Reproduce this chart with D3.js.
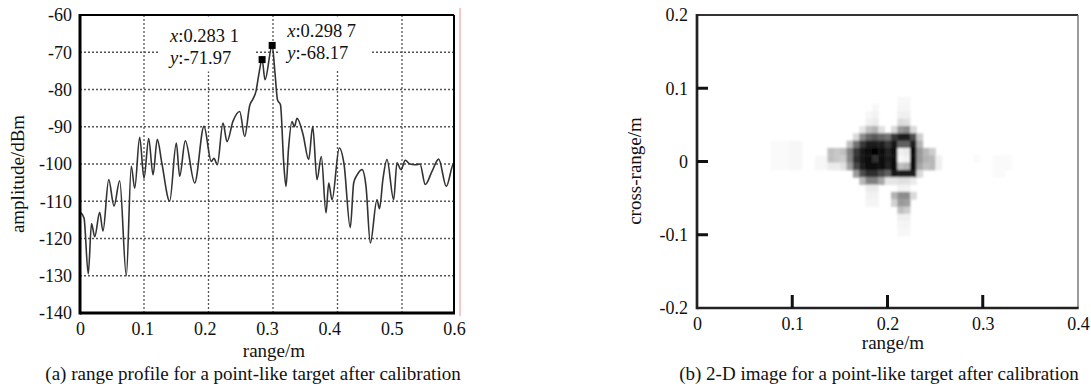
<!DOCTYPE html>
<html>
<head>
<meta charset="utf-8">
<script src="https://cdn.jsdelivr.net/npm/d3@7"></script>
<style>
  body { margin: 0; background: #fff; }
  svg { display: block; font-family: "Liberation Serif", "Times New Roman", serif; }
  .tick text { font-family: "Liberation Serif", "Times New Roman", serif; font-size: 18px; fill: #111; }
  .label { font-size: 19px; fill: #111; }
  .tip { font-size: 18.5px; fill: #111; }
</style>
</head>
<body>
<svg id="chart" width="1091" height="387"></svg>
<script>
// (a) range profile
const profileRange = [0.0016, 0.0070, 0.0136, 0.0186, 0.0236, 0.0313, 0.0364, 0.0453, 0.0535, 0.0623,
  0.0726, 0.0803, 0.0856, 0.0933, 0.1000, 0.1073, 0.1140, 0.1206, 0.1279, 0.1398,
  0.1501, 0.1553, 0.1640, 0.1786, 0.1930, 0.2043, 0.2085, 0.2136, 0.2225, 0.2287,
  0.2380, 0.2484, 0.2561, 0.2639, 0.2690, 0.2736, 0.2775, 0.2831, 0.2876, 0.2987,
  0.3031, 0.3070, 0.3116, 0.3166, 0.3202, 0.3240, 0.3295, 0.3333, 0.3372, 0.3465,
  0.3553, 0.3616, 0.3682, 0.3749, 0.3822, 0.3864, 0.3915, 0.4028, 0.4101, 0.4198,
  0.4251, 0.4302, 0.4380, 0.4442, 0.4509, 0.4612, 0.4651, 0.4705, 0.4767, 0.4871,
  0.4922, 0.4984, 0.5051, 0.5124, 0.5206, 0.5279, 0.5361, 0.5465, 0.5569, 0.5687,
  0.5802, 0.5868];
const profileAmp = [-113, -114.5, -129.5, -116, -119.5, -113, -118, -104.2, -111.3, -104.5,
  -130, -100.6, -106.5, -92.8, -103.8, -93.2, -102.9, -93.4, -100, -110,
  -94.4, -103.3, -93.8, -105.1, -89.9, -99.3, -98.5, -100.2, -89, -94,
  -88.5, -85.9, -92.6, -84.3, -82.5, -80.5, -76.5, -71.97, -77.4, -68.17,
  -75.6, -82.8, -84.1, -99.7, -106, -96, -88.6, -90, -87.7, -92,
  -98.8, -89.9, -104.2, -98, -113.1, -105.1, -109.6, -95.7, -100, -117.1,
  -105.1, -103, -101.5, -106, -121.2, -109.6, -112, -104, -98.8, -109.6,
  -99.7, -101.5, -99, -100, -100.2, -100, -105.5, -102, -98.7, -106,
  -99.9, -101];
const peakRange = [0.2831, 0.2987];
const peakAmp = [-71.97, -68.17];
const peakText = [["0.283 1", "-71.97"], ["0.298 7", "-68.17"]];
const ampTicks = [-60, -70, -80, -90, -100, -110, -120, -130, -140];
const rangeTicksA = [0, 0.1, 0.2, 0.3, 0.4, 0.5, 0.6];
const gridRangeA = [0.1, 0.2, 0.3, 0.4, 0.5];

// (b) 2-D image: darkness (0 white .. 100 black) per cell, rows top to bottom
const imgRange0 = 0.077, imgRangeStep = 0.006667;
const imgCross0 = 0.0885, imgCrossStep = 0.01;
const imgLevels = [
  [0,0,0,0,0,0,0,0,0,0, 0,0,0,0,0,0,0,0,0,0, 3,3,0,0,0,0,0,0,0,0, 0,0,0,0,0,0,0,0],
  [0,0,0,0,0,0,0,0,0,0, 0,0,0,0,0,0,3,0,0,0, 4,4,0,0,0,0,0,0,0,0, 0,0,0,0,0,0,0,0],
  [0,0,0,0,0,0,0,0,0,0, 0,0,0,0,0,3,5,0,0,0, 6,6,0,0,0,0,0,0,0,0, 0,0,0,0,0,0,0,0],
  [0,0,0,0,0,0,0,0,0,0, 0,0,0,0,0,6,8,0,0,0, 14,12,0,0,0,0,0,0,0,0, 0,0,0,0,0,0,0,0],
  [0,0,0,0,0,0,0,0,0,0, 0,0,0,0,10,25,30,12,0,15, 40,45,15,0,0,0,0,0,0,0, 0,0,0,0,0,0,0,0],
  [0,0,0,0,0,0,0,0,0,0, 0,0,0,15,45,60,65,60,55,78, 88,88,70,20,0,0,0,0,0,0, 0,0,0,0,0,0,0,0],
  [2,2,2,3,3,0,0,0,0,0, 0,0,25,55,78,88,90,88,78,92, 62,62,90,30,0,0,0,0,0,0, 0,0,0,0,0,0,0,0],
  [2,2,2,3,3,0,0,0,0,25, 22,25,50,78,92,97,98,96,86,96, 6,8,96,40,28,20,0,0,0,0, 0,0,0,0,0,0,0,0],
  [2,2,2,3,3,0,0,3,3,25, 22,20,48,82,93,96,82,97,88,97, 3,5,96,40,30,28,6,0,0,0, 0,0,2,0,0,2,2,2],
  [2,2,2,3,3,0,0,3,3,8, 8,12,38,72,90,97,97,95,86,95, 25,30,95,35,25,28,6,0,0,0, 0,0,0,0,0,2,2,2],
  [0,0,0,0,0,0,0,0,0,0, 0,0,0,40,70,82,82,72,62,92, 90,90,88,15,0,0,0,0,0,0, 0,0,0,0,0,2,2,0],
  [0,0,0,0,0,0,0,0,0,0, 0,0,0,0,28,50,50,35,10,10, 12,12,8,0,0,0,0,0,0,0, 0,0,0,0,0,0,0,0],
  [0,0,0,0,0,0,0,0,0,0, 0,0,0,0,0,8,8,0,0,0, 5,5,0,0,0,0,0,0,0,0, 0,0,0,0,0,0,0,0],
  [0,0,0,0,0,0,0,0,0,0, 0,0,0,0,0,5,5,0,0,30, 45,45,15,0,0,0,0,0,0,0, 0,0,0,0,0,0,0,0],
  [0,0,0,0,0,0,0,0,0,0, 0,0,0,0,0,4,4,0,0,18, 40,38,0,0,0,0,0,0,0,0, 0,0,0,0,0,0,0,0],
  [0,0,0,0,0,0,0,0,0,0, 0,0,0,0,0,0,0,0,0,0, 25,20,0,0,0,0,0,0,0,0, 0,0,0,0,0,0,0,0],
  [0,0,0,0,0,0,0,0,0,0, 0,0,0,0,0,0,0,0,0,0, 6,6,0,0,0,0,0,0,0,0, 0,0,0,0,0,0,0,0],
  [0,0,0,0,0,0,0,0,0,0, 0,0,0,0,0,0,0,0,0,0, 4,4,0,0,0,0,0,0,0,0, 0,0,0,0,0,0,0,0],
  [0,0,0,0,0,0,0,0,0,0, 0,0,0,0,0,0,0,0,0,0, 3,3,0,0,0,0,0,0,0,0, 0,0,0,0,0,0,0,0]
];
const rangeTicksB = [0, 0.1, 0.2, 0.3, 0.4];
const crossTicks = [0.2, 0.1, 0, -0.1, -0.2];
const innerRangeB = [0.1, 0.2, 0.3];
const innerCross = [0.1, 0, -0.1];

const svg = d3.select('#chart');
const fmt = (d) => String(d);

// ---------- (a) ----------
const A = { left: 80, right: 454, top: 15, bottom: 313 };
// printed labels drift from the grid in the source figure, so labels and data get separate scales
const xLab = d3.scaleLinear().domain([0, 0.6]).range([A.left, A.right]);
const xA = d3.scaleLinear().domain([0, 0.6]).range([79.5, 466.5]);
const yA = d3.scaleLinear().domain([-140, -60]).range([A.bottom, A.top]);

const ga = svg.append('g');
ga.append('clipPath').attr('id', 'clipA').append('rect')
  .attr('x', A.left).attr('y', A.top)
  .attr('width', A.right - A.left).attr('height', A.bottom - A.top);

const grid = ga.append('g')
  .attr('stroke', '#555').attr('stroke-width', 1.3).attr('stroke-dasharray', '2,2');
grid.selectAll('line.v').data(gridRangeA).enter().append('line')
  .attr('x1', (d) => xA(d)).attr('x2', (d) => xA(d))
  .attr('y1', A.top).attr('y2', A.bottom);
grid.selectAll('line.h').data(ampTicks.slice(1, -1)).enter().append('line')
  .attr('x1', A.left).attr('x2', A.right)
  .attr('y1', (d) => yA(d)).attr('y2', (d) => yA(d));

// white data-tip boxes sit over the grid
const tipPos = peakRange.map((r, i) => ({ x: xA(r), y: yA(peakAmp[i]) }));
const tipLayout = [
  { tx: tipPos[0].x - 92, ty: tipPos[0].y - 18, box: [160, 256] },
  { tx: tipPos[1].x + 15, ty: tipPos[1].y - 8, box: [279, 372] }
];
ga.selectAll('rect.tipbg').data(tipLayout).enter().append('rect')
  .attr('x', (d) => d.box[0]).attr('width', (d) => d.box[1] - d.box[0])
  .attr('y', A.top + 1.5).attr('height', (d, i) => (i === 0 ? 55 : 53))
  .attr('fill', '#fff');

const line = d3.line()
  .x((d, i) => xA(profileRange[i]))
  .y((d) => yA(d))
  .curve(d3.curveMonotoneX);
ga.append('path')
  .datum(profileAmp)
  .attr('clip-path', 'url(#clipA)')
  .attr('fill', 'none')
  .attr('stroke', '#333')
  .attr('stroke-width', 1.6)
  .attr('d', line);

ga.selectAll('rect.peak').data(tipPos).enter().append('rect')
  .attr('x', (d) => d.x - 3.5).attr('y', (d) => d.y - 3.5)
  .attr('width', 7).attr('height', 7).attr('fill', '#000');

tipLayout.forEach((t, i) => {
  const tx = ga.append('text').attr('class', 'tip').attr('x', t.tx).attr('y', t.ty);
  tx.append('tspan').attr('font-style', 'italic').text('x');
  tx.append('tspan').text(':' + peakText[i][0]);
  const ty = ga.append('text').attr('class', 'tip').attr('x', t.tx).attr('y', t.ty + 22);
  ty.append('tspan').attr('font-style', 'italic').text('y');
  ty.append('tspan').text(':' + peakText[i][1]);
});

// frame
ga.append('line').attr('x1', A.left).attr('x2', A.right).attr('y1', A.top).attr('y2', A.top)
  .attr('stroke', '#000').attr('stroke-width', 2);
ga.append('line').attr('x1', A.right).attr('x2', A.right).attr('y1', A.top).attr('y2', A.bottom)
  .attr('stroke', '#000').attr('stroke-width', 2);
ga.append('line').attr('x1', A.left).attr('x2', A.left).attr('y1', A.top - 1).attr('y2', A.bottom + 1.5)
  .attr('stroke', '#000').attr('stroke-width', 3);
ga.append('line').attr('x1', A.left).attr('x2', A.right + 1).attr('y1', A.bottom).attr('y2', A.bottom)
  .attr('stroke', '#000').attr('stroke-width', 3);
ga.append('line').attr('x1', 460).attr('x2', 460).attr('y1', 8).attr('y2', 316)
  .attr('stroke', '#f3a3a3').attr('stroke-width', 1.2);

ga.append('g').attr('transform', `translate(0,${A.bottom})`)
  .call(d3.axisBottom(xLab).tickValues(rangeTicksA).tickFormat(fmt).tickSize(0).tickPadding(9))
  .call((g) => g.select('.domain').remove());
ga.append('g').attr('transform', `translate(${A.left},0)`)
  .call(d3.axisLeft(yA).tickValues(ampTicks).tickFormat(fmt).tickSize(0).tickPadding(8))
  .call((g) => g.select('.domain').remove());

ga.append('text').attr('class', 'label').attr('x', 274).attr('y', 357)
  .attr('text-anchor', 'middle').text('range/m');
ga.append('text').attr('class', 'label').attr('text-anchor', 'middle')
  .attr('transform', 'translate(24,174) rotate(-90)').text('amplitude/dBm');
ga.append('text').attr('class', 'label').attr('x', 253).attr('y', 380)
  .attr('text-anchor', 'middle').text('(a) range profile for a point-like target after calibration');

// ---------- (b) ----------
const B = { left: 697, right: 1078, top: 15, bottom: 308 };
const xB = d3.scaleLinear().domain([0, 0.4]).range([B.left, B.right]);
const yB = d3.scaleLinear().domain([-0.2, 0.2]).range([B.bottom, B.top]);
const shade = d3.scaleLinear().domain([0, 100]).range(['#ffffff', '#000000']);

const defs = svg.append('defs');
defs.append('filter').attr('id', 'soft')
  .append('feGaussianBlur').attr('stdDeviation', 0.9);

const cells = [];
imgLevels.forEach((row, i) => row.forEach((v, j) => {
  if (v > 0) cells.push({ r: imgRange0 + j * imgRangeStep, c: imgCross0 - i * imgCrossStep, v });
}));
const gb = svg.append('g');
const cw = xB(imgRangeStep) - xB(0);
const ch = yB(0) - yB(imgCrossStep);
gb.append('g').attr('filter', 'url(#soft)')
  .selectAll('rect.cell').data(cells).enter().append('rect')
  .attr('x', (d) => xB(d.r)).attr('y', (d) => yB(d.c))
  .attr('width', cw + 0.4).attr('height', ch + 0.4)
  .attr('fill', (d) => shade(d.v));

gb.append('line').attr('x1', B.left).attr('x2', B.right).attr('y1', B.top).attr('y2', B.top)
  .attr('stroke', '#333').attr('stroke-width', 2);
gb.append('line').attr('x1', B.right).attr('x2', B.right).attr('y1', B.top).attr('y2', B.bottom)
  .attr('stroke', '#666').attr('stroke-width', 1.3);
gb.append('line').attr('x1', B.left).attr('x2', B.left).attr('y1', B.top - 1).attr('y2', B.bottom + 1.3)
  .attr('stroke', '#222').attr('stroke-width', 2.7);
gb.append('line').attr('x1', B.left).attr('x2', B.right + 0.6).attr('y1', B.bottom).attr('y2', B.bottom)
  .attr('stroke', '#222').attr('stroke-width', 2.7);

gb.selectAll('line.tx').data(innerRangeB).enter().append('line')
  .attr('x1', (d) => xB(d)).attr('x2', (d) => xB(d))
  .attr('y1', B.bottom).attr('y2', B.bottom - 13)
  .attr('stroke', '#111').attr('stroke-width', 3);
gb.selectAll('line.ty').data(innerCross).enter().append('line')
  .attr('x1', B.left).attr('x2', B.left + 11)
  .attr('y1', (d) => yB(d)).attr('y2', (d) => yB(d))
  .attr('stroke', '#111').attr('stroke-width', 3);

gb.append('g').attr('transform', `translate(0,${B.bottom})`)
  .call(d3.axisBottom(xB).tickValues(rangeTicksB).tickFormat(fmt).tickSize(0).tickPadding(9))
  .call((g) => g.select('.domain').remove());
gb.append('g').attr('transform', `translate(${B.left},0)`)
  .call(d3.axisLeft(yB).tickValues(crossTicks).tickFormat(fmt).tickSize(0).tickPadding(9))
  .call((g) => g.select('.domain').remove());

gb.append('text').attr('class', 'label').attr('x', 893).attr('y', 349)
  .attr('text-anchor', 'middle').text('range/m');
gb.append('text').attr('class', 'label').attr('text-anchor', 'middle')
  .attr('transform', 'translate(641,171) rotate(-90)').text('cross-range/m');
gb.append('text').attr('class', 'label').attr('x', 879).attr('y', 380)
  .attr('text-anchor', 'middle').text('(b) 2-D image for a point-like target after calibration');
</script>
</body>
</html>
